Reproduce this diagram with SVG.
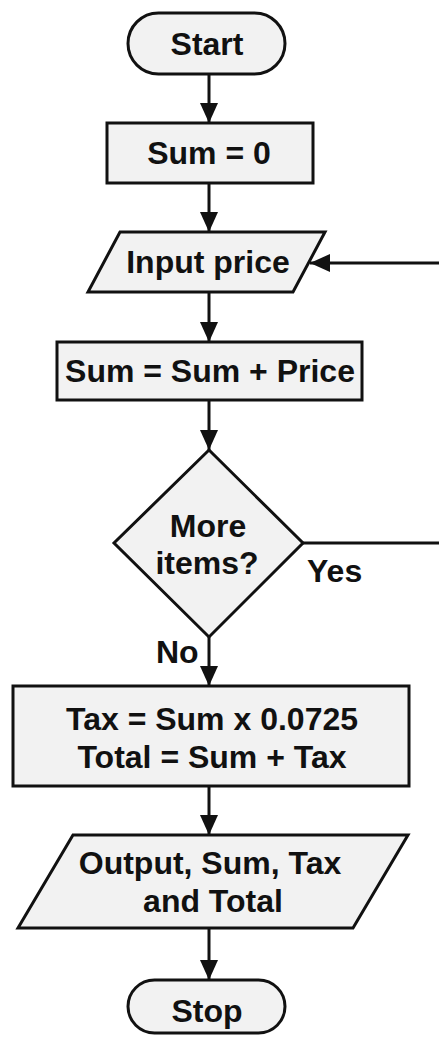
<svg xmlns="http://www.w3.org/2000/svg" width="439" height="1037" viewBox="0 0 439 1037">
  <style>
    .shape { fill: #f2f2f2; stroke: #111; stroke-width: 3; stroke-linejoin: miter; }
    .label { font-family: "Liberation Sans", Arial, Helvetica, sans-serif; font-weight: bold; font-size: 32px; fill: #111; text-anchor: middle; }
    .tag { font-family: "Liberation Sans", Arial, Helvetica, sans-serif; font-weight: bold; font-size: 32px; fill: #111; }
    .flow { fill: none; stroke: #111; stroke-width: 3; }
  </style>
  <defs>
    <marker id="arrow" markerUnits="userSpaceOnUse" markerWidth="20" markerHeight="18" refX="20" refY="9" orient="auto">
      <path d="M0,0 L20,9 L0,18 Z" fill="#111"/>
    </marker>
  </defs>
  <rect width="439" height="1037" fill="#fff"/>

  <!-- connectors -->
  <g id="connectors">
    <path class="flow" d="M209,74 V123" marker-end="url(#arrow)"/>
    <path class="flow" d="M209,183 V232" marker-end="url(#arrow)"/>
    <path class="flow" d="M209,292 V342" marker-end="url(#arrow)"/>
    <path class="flow" d="M209,400 V450" marker-end="url(#arrow)"/>
    <path class="flow" d="M209,637 V686" marker-end="url(#arrow)"/>
    <path class="flow" d="M209,786 V835" marker-end="url(#arrow)"/>
    <path class="flow" d="M209,928 V980" marker-end="url(#arrow)"/>
    <!-- loop back from the decision to the input step -->
    <path class="flow" d="M303,543 H446 V263 H310" marker-end="url(#arrow)"/>
    <text class="tag" x="307" y="582">Yes</text>
    <text class="tag" x="156" y="663">No</text>
  </g>

  <g id="start">
    <rect class="shape" x="128" y="13" width="157" height="61" rx="30.5" ry="30.5"/>
    <text class="label" x="207" y="55">Start</text>
  </g>

  <g id="init-sum">
    <rect class="shape" x="107" y="123" width="206" height="60"/>
    <text class="label" x="209" y="164">Sum = 0</text>
  </g>

  <g id="input-price">
    <polygon class="shape" points="120,232 325,232 293,292 88,292"/>
    <text class="label" x="208" y="273">Input price</text>
  </g>

  <g id="add-price">
    <rect class="shape" x="57" y="342" width="305" height="58"/>
    <text class="label" x="210" y="382">Sum = Sum + Price</text>
  </g>

  <g id="more-items">
    <polygon class="shape" points="209,450 303,543 209,637 114,543"/>
    <text class="label" x="208" y="537">More</text>
    <text class="label" x="207" y="574">items?</text>
  </g>

  <g id="compute-tax">
    <rect class="shape" x="13" y="686" width="396" height="100"/>
    <text class="label" x="212" y="730">Tax = Sum x 0.0725</text>
    <text class="label" x="212" y="768">Total = Sum + Tax</text>
  </g>

  <g id="output">
    <polygon class="shape" points="73,835 408,835 353,928 18,928"/>
    <text class="label" x="210" y="874">Output, Sum, Tax</text>
    <text class="label" x="213" y="912">and Total</text>
  </g>

  <g id="stop">
    <rect class="shape" x="128" y="980" width="157" height="53" rx="26.5" ry="26.5"/>
    <text class="label" x="207" y="1022">Stop</text>
  </g>
</svg>
